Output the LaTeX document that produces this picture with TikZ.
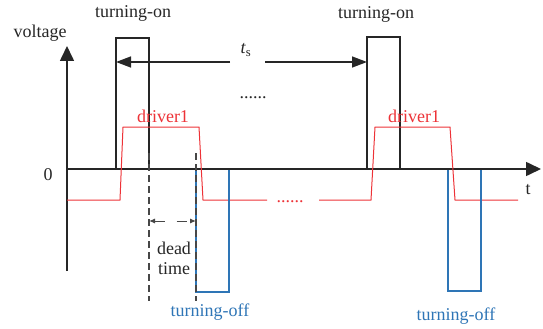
\documentclass[tikz,border=0pt]{standalone}
\usepackage{fontspec}
\setmainfont{Liberation Serif}
\usepackage{xcolor}
\usetikzlibrary{arrows.meta}
\definecolor{wavered}{RGB}{237,50,55}
\definecolor{waveblue}{RGB}{46,117,182}
\definecolor{inkgray}{RGB}{38,38,38}

\begin{document}
\begin{tikzpicture}[x=1pt,y=-1pt,
  axis/.style={line width=1.6pt,draw=inkgray,-{Triangle[length=15pt,width=14pt]}},
  span/.style={line width=1.4pt,draw=inkgray,-{Triangle[length=15pt,width=11pt]}},
  pulse/.style={line width=1.3pt,draw=inkgray},
  drive/.style={line width=1pt,draw=wavered},
  offpulse/.style={line width=1.5pt,draw=waveblue},
  guide/.style={line width=1.2pt,draw=inkgray!85,dash pattern=on 7pt off 4pt},
  gap/.style={line width=1pt,draw=inkgray!85,dash pattern=on 10pt off 12pt,
    {Latex[length=6pt,width=5pt]}-{Latex[length=6pt,width=5pt]}},
  lbl/.style={font=\fontsize{18}{20}\selectfont,text=inkgray,inner sep=0pt}
]
\useasboundingbox (0,0) rectangle (543,329);
% axes
\coordinate (origin) at (67,169);
\coordinate (ytop) at (67,46);
\coordinate (ybot) at (67,271);
\coordinate (xend) at (541,169);
\draw[axis] (ybot) -- (ytop);
\draw[axis] (origin) -- (xend);
\node[lbl] (vlabel) at (40,33) {voltage};
\node[lbl] (zero) at (48,175) {0};
\node[lbl] (tlabel) at (528,190) {t};
% turning-on pulses
\draw[pulse] (116,169) -- (116,38) -- (149,38) -- (149,169);
\draw[pulse] (367,169) -- (367,37) -- (400,37) -- (400,169);
\node[lbl] (on1) at (133,13) {turning-on};
\node[lbl] (on2) at (376,14) {turning-on};
% switching period
\coordinate (tsL) at (230,62);
\coordinate (tsR) at (265,62);
\coordinate (on1w) at (116,62);
\coordinate (on2w) at (367,62);
\draw[span] (tsL) -- (on1w);
\draw[span] (tsR) -- (on2w);
\node[lbl] (ts) at (246,50) {\textit{t}\textsubscript{s}};
\node[lbl,anchor=base] (dots) at (253,98) {......};
% driver1
\draw[drive] (67,200) -- (120,200) -- (123,127) -- (199,127) -- (203,200) -- (267,200);
\draw[drive] (319,200) -- (371,200) -- (375,127) -- (450,127) -- (455,200) -- (518,200);
\node[lbl,text=wavered] (drv1) at (163,116) {driver1};
\node[lbl,text=wavered] (drv2) at (414,116) {driver1};
\node[lbl,text=wavered,anchor=base] (rdots) at (290,202) {......};
% turning-off pulses
\draw[offpulse] (196,170) -- (196,292) -- (229,292) -- (229,170);
\draw[offpulse] (448,170) -- (448,291) -- (481,291) -- (481,170);
\node[lbl,text=waveblue] (off1) at (210,312) {turning-off};
\node[lbl,text=waveblue] (off2) at (456,316) {turning-off};
% dead time
\coordinate (dtop1) at (149,153);
\coordinate (dbot1) at (149,301);
\coordinate (dtop2) at (196,153);
\coordinate (dbot2) at (196,301);
\draw[guide] (dtop1) -- (dbot1);
\draw[guide] (dtop2) -- (dbot2);
\coordinate (dl) at (149,221);
\coordinate (dr) at (196,221);
\draw[gap] (dl) -- (dr);
\node[lbl,align=center] (dead) at (174,258) {dead\\time};
\end{tikzpicture}
\end{document}
